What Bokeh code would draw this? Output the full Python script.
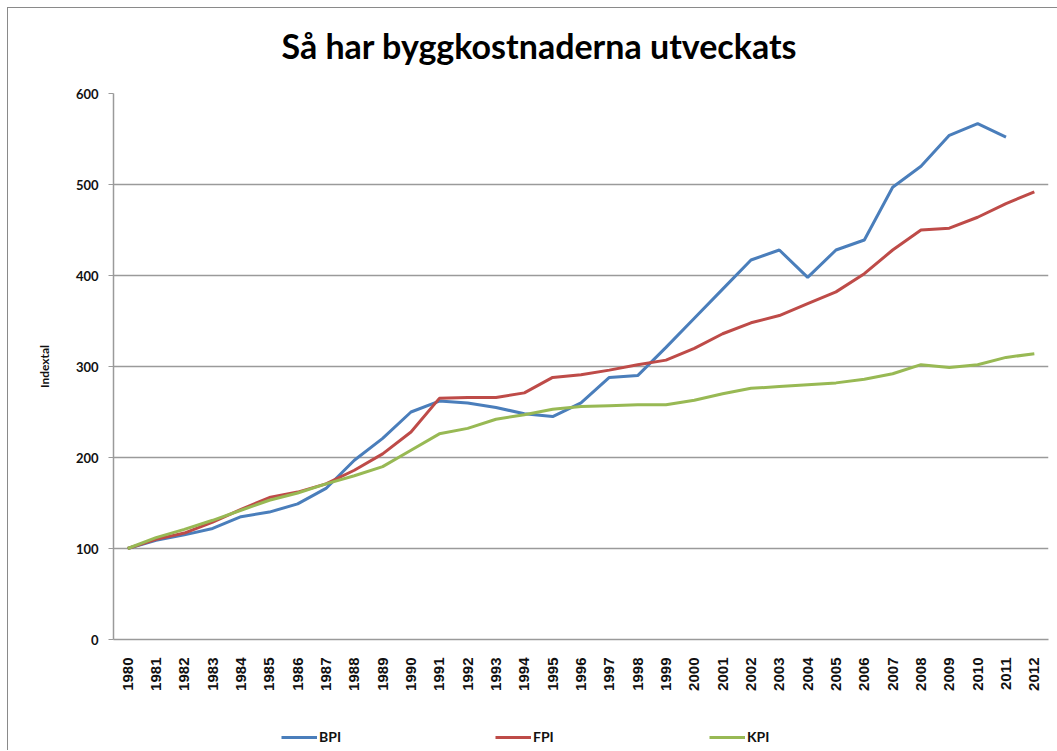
import math
from bokeh.plotting import figure
from bokeh.layouts import column
from bokeh.models import (ColumnDataSource, Range1d, FixedTicker, Legend, LegendItem, Div)
from bokeh.embed import file_html
from bokeh.resources import INLINE

years = [str(y) for y in range(1980, 2013)]
bpi = [100, 109, 115, 122, 135, 140, 149, 166, 197, 221, 250, 262, 260, 255, 248, 245,
       260, 288, 290, 321, 353, 385, 417, 428, 398, 428, 439, 497, 520, 554, 567, 552, float('nan')]
fpi = [100, 110, 117, 129, 143, 156, 162, 171, 186, 204, 228, 265, 266, 266, 271, 288,
       291, 296, 302, 307, 320, 336, 348, 356, 369, 382, 402, 428, 450, 452, 464, 479, 492]
kpi = [100, 112, 121, 131, 142, 153, 161, 171, 180, 190, 208, 226, 232, 242, 247, 253,
       256, 257, 258, 258, 263, 270, 276, 278, 280, 282, 286, 292, 302, 299, 302, 310, 314]
series_names = ["BPI", "FPI", "KPI"]
series_colors = ["#4A7EBB", "#BE4B48", "#98B954"]
y_ticks = [0, 100, 200, 300, 400, 500, 600]
title_text = "Så har byggkostnaderna utveckats"
y_label = "Indextal"

src = ColumnDataSource(dict(year=years, BPI=bpi, FPI=fpi, KPI=kpi))

title_div = Div(
    text=('<div style="font-family: Lato; font-weight: bold; font-size: 34px; color: #000;'
          ' text-align: center; line-height: 41px; padding-top: 17px; padding-left: 13px;'
          ' box-sizing: border-box; width: 1049px; white-space: nowrap;">'
          + title_text + '</div>'),
    width=1049, height=58, margin=0)

p = figure(width=1049, height=654, x_range=years, y_range=Range1d(0, 600),
           output_backend="svg", toolbar_location=None,
           min_border_left=105, min_border_right=9, min_border_top=27, min_border_bottom=81)
p.outline_line_color = None
p.background_fill_color = "white"
p.border_fill_color = "white"

for name, col in zip(series_names, series_colors):
    p.line("year", name, source=src, line_color=col, line_width=3)

p.yaxis.ticker = FixedTicker(ticks=y_ticks)
p.ygrid.ticker = FixedTicker(ticks=y_ticks)
p.ygrid.grid_line_color = "#9a9a9a"
p.ygrid.grid_line_width = 1.5
p.xgrid.grid_line_color = None

p.yaxis.axis_line_color = "#9a9a9a"
p.yaxis.axis_line_width = 1.5
p.yaxis.major_tick_line_color = "#9a9a9a"
p.yaxis.major_tick_out = 5
p.yaxis.major_tick_in = 0
p.yaxis.minor_tick_line_color = None
p.yaxis.major_label_text_font = "Lato"
p.yaxis.major_label_text_font_style = "bold"
p.yaxis.major_label_text_font_size = "13px"
p.yaxis.major_label_text_color = "#111111"
p.yaxis.major_label_standoff = 10
p.yaxis.axis_label = y_label
p.yaxis.axis_label_text_font = "Lato"
p.yaxis.axis_label_text_font_style = "bold"
p.yaxis.axis_label_text_font_size = "12px"
p.yaxis.axis_label_text_color = "#111111"
p.yaxis.axis_label_standoff = 21

p.xaxis.axis_line_color = "#9a9a9a"
p.xaxis.axis_line_width = 1.5
p.xaxis.major_tick_line_color = None
p.xaxis.minor_tick_line_color = None
p.xaxis.major_label_orientation = math.pi / 2
p.xaxis.major_label_text_font = "Liberation Sans"
p.xaxis.major_label_text_font_style = "bold"
p.xaxis.major_label_text_font_size = "15px"
p.xaxis.major_label_text_color = "#111111"
p.xaxis.major_label_standoff = 12

# legend strip below the chart (its lines lie outside the visible range)
q = figure(width=1049, height=30, x_range=Range1d(0, 1), y_range=Range1d(0, 1),
           output_backend="svg", toolbar_location=None, min_border=0)
q.axis.visible = False
q.grid.visible = False
q.outline_line_color = None
q.background_fill_color = "white"
q.border_fill_color = "white"
legend_renderers = [q.line(x=[-5, -4], y=[-5, -4], line_color=c, line_width=3) for c in series_colors]
legend = Legend(items=[LegendItem(label=n, renderers=[r]) for n, r in zip(series_names, legend_renderers)],
                orientation="horizontal", location=(168, 5),
                glyph_width=36, glyph_height=12, label_standoff=2, label_width=30, spacing=146,
                label_text_font="Lato", label_text_font_style="bold", label_text_font_size="14px",
                label_text_color="#111111",
                border_line_color=None, background_fill_alpha=0, margin=0, padding=0)
q.add_layout(legend, "center")

layout = column(title_div, p, q, spacing=0,
                styles={"margin-left": "7px", "margin-top": "7px", "background-color": "white",
                        "border-left": "1px solid #8a8a8a", "border-top": "1px solid #8a8a8a"})

open("out.html", "w").write(file_html(layout, INLINE))
